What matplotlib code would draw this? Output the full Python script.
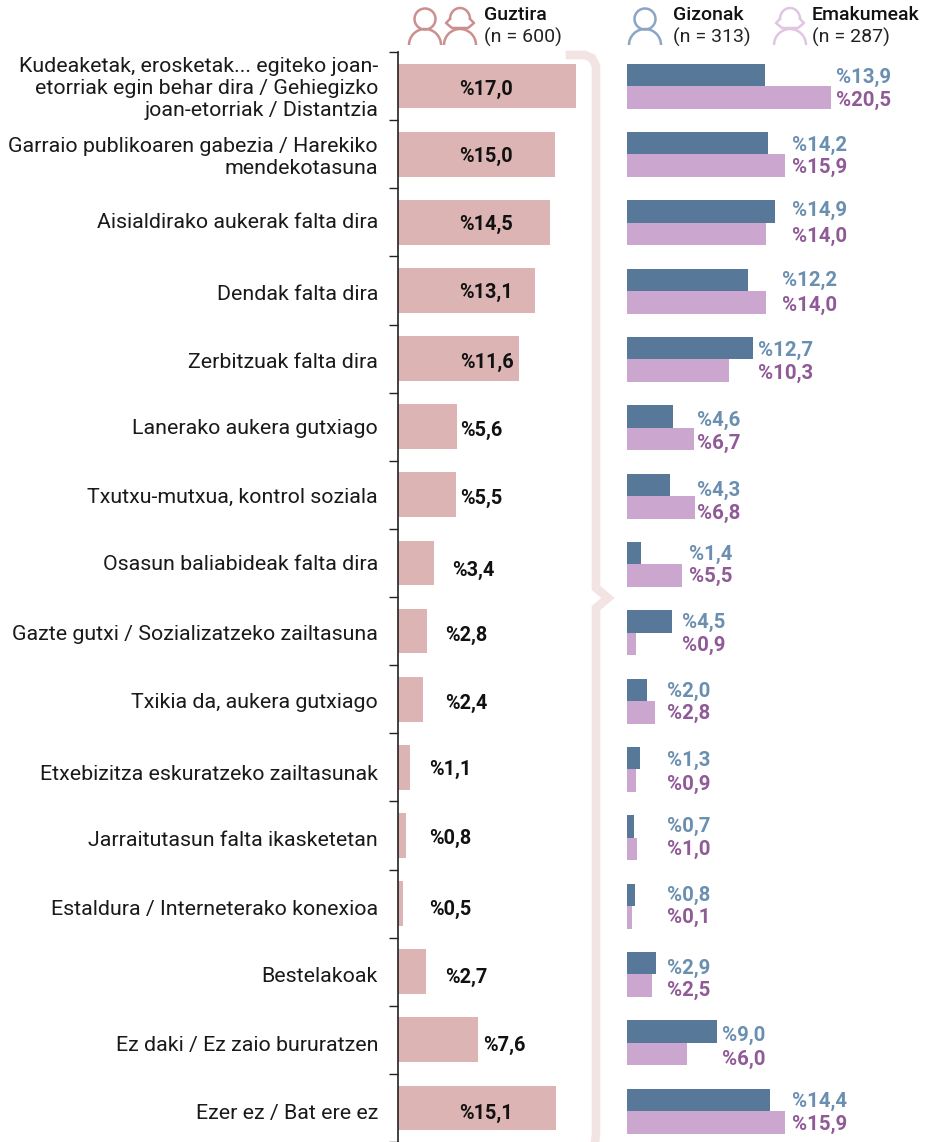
from matplotlib import pyplot as plt
from matplotlib.patches import Circle, Arc
import numpy as np

plt.rcParams['font.family'] = ['Roboto', 'DejaVu Sans']

categories = [
    'Kudeaketak, erosketak... egiteko joan-\netorriak egin behar dira / Gehiegizko\njoan-etorriak / Distantzia',
    'Garraio publikoaren gabezia / Harekiko\nmendekotasuna',
    'Aisialdirako aukerak falta dira',
    'Dendak falta dira',
    'Zerbitzuak falta dira',
    'Lanerako aukera gutxiago',
    'Txutxu-mutxua, kontrol soziala',
    'Osasun baliabideak falta dira',
    'Gazte gutxi / Sozializatzeko zailtasuna',
    'Txikia da, aukera gutxiago',
    'Etxebizitza eskuratzeko zailtasunak',
    'Jarraitutasun falta ikasketetan',
    'Estaldura / Interneterako konexioa',
    'Bestelakoak',
    'Ez daki / Ez zaio bururatzen',
    'Ezer ez / Bat ere ez',
]
guztira = [17.0, 15.0, 14.5, 13.1, 11.6, 5.6, 5.5, 3.4, 2.8, 2.4, 1.1, 0.8, 0.5, 2.7, 7.6, 15.1]
gizonak = [13.9, 14.2, 14.9, 12.2, 12.7, 4.6, 4.3, 1.4, 4.5, 2.0, 1.3, 0.7, 0.8, 2.9, 9.0, 14.4]
emakumeak = [20.5, 15.9, 14.0, 14.0, 10.3, 6.7, 6.8, 5.5, 0.9, 2.8, 0.9, 1.0, 0.1, 2.5, 6.0, 15.9]

# label placement in pixels
total_x = [486, 486, 486, 486, 487, 481, 481, 473, 466, 466, 450, 450, 450, 466, 504, 486]
total_y = [89, 156, 224, 292, 362, 430, 498, 570, 635, 703, 769, 838, 909, 977, 1045, 1113]
cat_y = [89, 157, 222, 294, 362, 428, 497, 565, 635, 703, 774, 841, 909, 977, 1045, 1114]
side_x = [836, 792, 792, 782, 758, 697, 697, 689, 682, 667, 667, 667, 667, 667, 722, 792]
men_y = [77, 145, 210, 280, 350, 420, 490, 554, 622, 691, 760, 826, 895, 968, 1035, 1101]
women_y = [100, 167, 236, 305, 373, 443, 513, 576, 645, 713, 784, 849, 917, 990, 1059, 1124]

W, H = 930, 1142
row_h = 68.33
top = 52.0


def fmt(v):
    return '%' + f'{v:.1f}'.replace('.', ',')


fig = plt.figure(figsize=(W / 100, H / 100), dpi=100)

y = np.arange(len(categories))

# left bars
ax1 = fig.add_axes([398 / W, 0, 178 / W, (H - top) / H])
ax1.barh(y, guztira, height=45 / row_h, color='#dcb4b4')
ax1.set_xlim(0, 17)
ax1.set_ylim(-0.5 + (H - top) / row_h, -0.5)
ax1.set_yticks(list(y - 0.5) + [len(y) - 0.5])
ax1.set_yticklabels([])
ax1.set_xticks([])
ax1.tick_params(axis='y', length=6.5, width=1, color='#222222', direction='out')
for s in ['top', 'right', 'bottom']:
    ax1.spines[s].set_visible(False)
ax1.spines['left'].set_color('#222222')
ax1.spines['left'].set_linewidth(1.2)
ax1.patch.set_alpha(0)

# right bars, the thinnest ones keep a visible width in the original
ax2 = fig.add_axes([627 / W, 0, 204 / W, (H - top) / H])
bh = 22.5 / row_h
ax2.barh(y - bh / 2, gizonak, height=bh, color='#577899')
ax2.barh(y + bh / 2, np.maximum(emakumeak, 0.5), height=bh, color='#cba6cf')
ax2.set_xlim(0, 20.5)
ax2.set_ylim(-0.5 + (H - top) / row_h, -0.5)
ax2.axis('off')

# overlays in pixels for brace, icons and text
ov = fig.add_axes([0, 0, 1, 1], zorder=-1)
ov.set_xlim(0, W)
ov.set_ylim(H, 0)
ov.axis('off')
ov2 = fig.add_axes([0, 0, 1, 1], zorder=5)
ov2.set_xlim(0, W)
ov2.set_ylim(H, 0)
ov2.axis('off')

brace_x = [570, 585, 592, 596, 596, 608, 596, 596, 596, 595]
brace_y = [55, 55, 58, 66, 588, 598, 608, 1125, 1134, 1142]
ov.plot(brace_x, brace_y, color='#f3e4e4', lw=6.2, solid_joinstyle='miter')


def person(cx, color, woman=False):
    ov2.add_patch(Arc((cx, 45), 32, 32, theta1=180, theta2=360, color=color, lw=1.8))
    if woman:
        ov2.add_patch(Arc((cx, 19), 20, 22, theta1=180, theta2=360, color=color, lw=1.8))
        ov2.plot([cx - 10, cx - 14, cx - 8, cx + 8, cx + 14, cx + 10],
                 [19, 23, 28, 28, 23, 19], color=color, lw=1.8)
    else:
        ov2.add_patch(Circle((cx, 19), 10.5, fill=False, ec=color, lw=1.8))


person(425, '#cc8f8f')
person(460, '#cc8f8f', woman=True)
person(645, '#8aa6c4')
person(790, '#e0c6e2', woman=True)

for x, name, n in [(484, 'Guztira', '(n = 600)'), (673, 'Gizonak', '(n = 313)'), (812, 'Emakumeak', '(n = 287)')]:
    ov2.text(x, 15, name, fontsize=14, fontweight='medium', color='#111111', va='center', ha='left')
    ov2.text(x, 37, n, fontsize=14, color='#222222', va='center', ha='left')

for i, cat in enumerate(categories):
    ov2.text(378, cat_y[i], cat, fontsize=15.4, color='#1a1a1a', ha='right', va='center', linespacing=1.2)
    ov2.text(total_x[i], total_y[i], fmt(guztira[i]), fontsize=14.3, fontweight='bold', color='#111111',
             ha='center', va='center')
    ov2.text(side_x[i], men_y[i], fmt(gizonak[i]), fontsize=14.7, fontweight='bold', color='#6a8fb0',
             ha='left', va='center')
    ov2.text(side_x[i], women_y[i], fmt(emakumeak[i]), fontsize=14.7, fontweight='bold', color='#8f5a96',
             ha='left', va='center')

fig.savefig('out.png', dpi=100)
